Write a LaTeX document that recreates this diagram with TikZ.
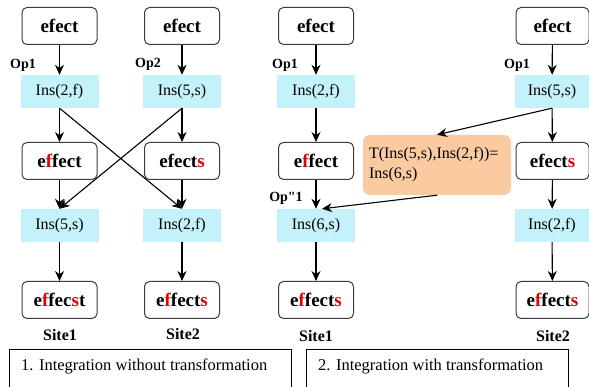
\documentclass[tikz,border=0pt]{standalone}
\usepackage{fontspec}
\setmainfont{Liberation Serif}
\newfontfamily\tnr{Liberation Serif}
\usetikzlibrary{arrows.meta}
\definecolor{cyanbox}{RGB}{196,242,250}
\definecolor{orangebox}{RGB}{250,202,160}
\definecolor{boxline}{RGB}{60,60,60}
\definecolor{redtxt}{RGB}{225,0,0}
\newcommand{\rf}[1]{\textcolor{redtxt}{#1}}
\begin{document}
\begin{tikzpicture}[x=1pt,y=-1pt,
  wordbox/.style={draw=boxline,line width=1pt,rounded corners=5pt,fill=white,
    minimum width=75pt,minimum height=37pt,inner sep=0pt,
    font=\tnr\fontsize{19}{21}\selectfont\bfseries},
  opbox/.style={fill=cyanbox,minimum width=78pt,minimum height=33pt,inner sep=0pt,
    font=\tnr\fontsize{16}{18}\selectfont},
  oplabel/.style={font=\tnr\fontsize{14}{16}\selectfont\bfseries,inner sep=0pt},
  sitelabel/.style={font=\tnr\fontsize{16}{18}\selectfont\bfseries,inner sep=0pt},
  arr/.style={-{Stealth[length=10pt,width=9pt]},line width=1.1pt,black},
  capbox/.style={draw=black,line width=0.8pt,fill=white}]
\useasboundingbox (0,0) rectangle (589,387);
\fill[white] (0,0) rectangle (589,387);
\clip (0,0) rectangle (589,387);
% column 1
\node[wordbox] (a1) at (59.5,26) {efect};
\node[opbox] (a2) at (59.5,91.5) {Ins(2,f)};
\node[wordbox] (a3) at (59.5,161) {e\rf{f}fect};
\node[opbox] (a4) at (59.5,225.5) {Ins(5,s)};
\node[wordbox] (a5) at (59.5,300) {e\rf{f}fec\rf{s}t};
\node[oplabel] (la) at (23,65) {Op1};
\node[sitelabel] (sa) at (60,335) {Site1};
% column 2
\node[wordbox] (b1) at (182,26) {efect};
\node[opbox] (b2) at (182,91.5) {Ins(5,s)};
\node[wordbox] (b3) at (182,161) {efect\rf{s}};
\node[opbox] (b4) at (182,225.5) {Ins(2,f)};
\node[wordbox] (b5) at (182,300) {e\rf{f}fect\rf{s}};
\node[oplabel] (lb) at (148,64) {Op2};
\node[sitelabel] (sb) at (183,334) {Site2};
% column 3
\node[wordbox] (c1) at (316,26) {efect};
\node[opbox] (c2) at (316,91.5) {Ins(2,f)};
\node[wordbox] (c3) at (316,161) {e\rf{f}fect};
\node[opbox] (c4) at (316,225.5) {Ins(6,s)};
\node[wordbox] (c5) at (316,300) {e\rf{f}fect\rf{s}};
\node[oplabel] (lc) at (285,65) {Op1};
\node[oplabel] (lc2) at (286,198) {Op\textquotedbl 1};
\node[sitelabel] (sc) at (316,336) {Site1};
% column 4
\node[wordbox,minimum width=73pt] (d1) at (552.5,26) {efect};
\node[opbox,minimum width=74pt] (d2) at (552,91.5) {Ins(5,s)};
\node[wordbox,minimum width=73pt] (d3) at (552.5,161) {efect\rf{s}};
\node[opbox,minimum width=74pt] (d4) at (552,225.5) {Ins(2,f)};
\node[wordbox,minimum width=73pt] (d5) at (552.5,300) {e\rf{f}fect\rf{s}};
\node[oplabel] (ld) at (517,65) {Op1};
\node[sitelabel] (sd) at (553,336) {Site2};
% transformation box
\node[fill=orangebox,rounded corners=7pt,minimum width=148pt,minimum height=60pt,
  text width=136pt,align=left,inner sep=0pt,font=\tnr\fontsize{16}{20}\selectfont]
  (t) at (437,165) {T(Ins(5,s),Ins(2,f))=\\Ins(6,s)};
% arrows
\foreach \c in {a,b,c,d}{
  \draw[arr] (\c1) -- (\c2);
  \draw[arr] (\c2) -- (\c3);
  \draw[arr] (\c3) -- (\c4);
  \draw[arr] (\c4) -- (\c5);
}
\draw[arr] (a2.south) -- (b4.north);
\draw[arr] (b2.south) -- (a4.north);
\draw[arr] (d2.south) -- (t.north);
\draw[arr] (t.south) -- ([xshift=6pt]c4.north);
% captions
\node[capbox,minimum width=282pt,minimum height=40pt,anchor=north west,inner sep=0pt] (k1) at (9,349) {};
\node[anchor=west,inner sep=0pt,font=\tnr\fontsize{16.5}{19}\selectfont] (k1t) at (21,366) {1. Integration without transformation};
\node[capbox,minimum width=262pt,minimum height=40pt,anchor=north west,inner sep=0pt] (k2) at (306,349) {};
\node[anchor=west,inner sep=0pt,font=\tnr\fontsize{16.5}{19}\selectfont] (k2t) at (318,366) {2. Integration with transformation};
\end{tikzpicture}
\end{document}
